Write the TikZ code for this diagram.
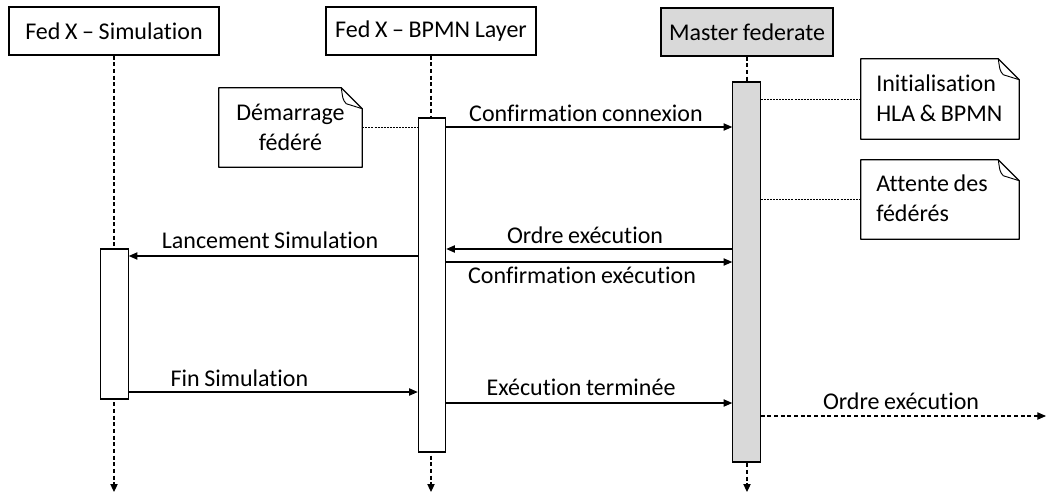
\documentclass[tikz,border=0pt]{standalone}
\usepackage{fontspec}
\setmainfont{Carlito}[Ligatures={NoCommon,NoContextual},WordSpace={0.85,0,0}]
\usetikzlibrary{arrows.meta}
\definecolor{mgray}{HTML}{D9D9D9}
\begin{document}
\begin{tikzpicture}[x=0.75pt,y=-0.75pt,
  every node/.style={font=\fontsize{18}{22.5}\selectfont},
  head/.style={draw, line width=0.9pt, minimum height=36pt, inner sep=0pt},
  actbar/.style={draw, line width=0.9pt, minimum width=20.5pt, inner sep=0pt},
  life/.style={line width=0.8pt, dash pattern=on 3pt off 2pt, -{Triangle[length=6pt,width=5.5pt]}},
  msg/.style={line width=0.8pt, -{Triangle[length=6.5pt,width=5.5pt]}},
  dmsg/.style={msg, dash pattern=on 3pt off 2pt},
  link/.style={line width=0.7pt, dash pattern=on 1.5pt off 0.8pt},
  notebox/.style={inner sep=0pt},
  notetext/.style={inner sep=0pt, align=left, anchor=west},
  lbl/.style={anchor=base, inner sep=0pt}
]
\useasboundingbox (0,0) rectangle (1048,493);

% heads
\node[head, minimum width=157.5pt] (h1) at (114,31) {Fed X – Simulation};
\node[head, minimum width=157.5pt] (h2) at (431,31) {Fed X – BPMN Layer};
\node[head, minimum width=129pt, fill=mgray] (h3) at (747,32) {Master federate};

% lifeline ends
\coordinate (e1) at (114,492);
\coordinate (e2) at (431,492);
\coordinate (e3) at (747,492);
\draw[life] (h1.south) -- (e1);
\draw[life] (h2.south) -- (e2);
\draw[life] (h3.south) -- (e3);

% activation bars
\node[actbar, fill=white, minimum height=112.5pt] (simbar) at (114.5,324) {};
\node[actbar, fill=white, minimum height=250.5pt] (bpmnbar) at (432,285) {};
\node[actbar, fill=mgray, minimum height=285pt] (masterbar) at (746.5,272) {};

% notes
\node[notebox, minimum width=107.25pt, minimum height=59.25pt, align=center] (n1) at (290.5,127.5) {Démarrage\\fédéré};
\node[notebox, minimum width=118.5pt, minimum height=60pt] (n2) at (940,99) {};
\node[notebox, minimum width=118.5pt, minimum height=59.25pt] (n3) at (940,199.5) {};
\node[notetext] (t2) at (876,98) {Initialisation\\HLA \& BPMN};
\node[notetext] (t3) at (876,198) {Attente des\\fédérés};
\foreach \n in {n1,n2,n3}{
  \draw[line width=0.9pt, line join=round] (\n.north west) -- ([xshift=-15.75pt]\n.north east) -- ([yshift=-15.75pt]\n.north east) -- (\n.south east) -- (\n.south west) -- cycle;
  \draw[line width=0.7pt, line join=round] ([xshift=-15.75pt]\n.north east) .. controls ([xshift=-14.5pt,yshift=-9pt]\n.north east) .. ([xshift=-12pt,yshift=-12pt]\n.north east) -- ([yshift=-15.75pt]\n.north east);
}

% note links
\draw[link] (n1.east) -- (bpmnbar.west |- n1.east);
\draw[link] (masterbar.east |- n2.west) -- (n2.west);
\draw[link] (masterbar.east |- n3.west) -- (n3.west);

% messages
\draw[msg] (bpmnbar.east |- 0,127) -- (masterbar.west |- 0,127);
\node[lbl] (l1) at (586,121) {Confirmation connexion};

\draw[msg] (masterbar.west |- 0,249) -- (bpmnbar.east |- 0,249);
\node[lbl] (l2) at (585,243) {Ordre exécution};

\draw[msg] (bpmnbar.east |- 0,262) -- (masterbar.west |- 0,262);
\node[lbl] (l3) at (582,283) {Confirmation exécution};

\draw[msg] (bpmnbar.west |- 0,256) -- (simbar.east |- 0,256);
\node[lbl] (l4) at (270,248) {Lancement Simulation};

\draw[msg] (simbar.east |- 0,392) -- (bpmnbar.west |- 0,392);
\node[lbl] (l5) at (239.5,386) {Fin Simulation};

\draw[msg] (bpmnbar.east |- 0,403) -- (masterbar.west |- 0,403);
\node[lbl] (l6) at (581,395) {Exécution terminée};

\coordinate (out) at (1046,416);
\draw[dmsg] (masterbar.east |- out) -- (out);
\node[lbl] (l7) at (901,409) {Ordre exécution};

\end{tikzpicture}
\end{document}
